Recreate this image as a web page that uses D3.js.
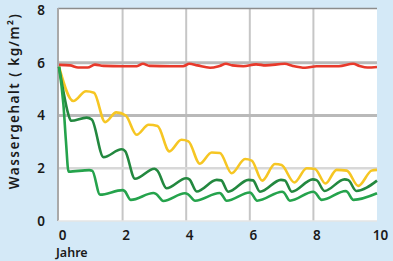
<!DOCTYPE html>
<html>
<head>
<meta charset="utf-8">
<script src="https://cdn.jsdelivr.net/npm/d3@7"></script>
<style>
  body { margin: 0; background: #d4e9f7; }
  svg { display: block; font-family: "Noto Sans", sans-serif; }
</style>
</head>
<body>
<div id="chart"></div>
<script>
// [Jahre, Wassergehalt kg/m²]
const red = [[0,5.92],[0.35,5.9],[0.6,5.82],[0.9,5.82],[1.13,5.93],[1.4,5.88],[2.0,5.87],[2.45,5.87],[2.64,5.96],[2.85,5.88],[3.5,5.87],[3.9,5.87],[4.1,5.96],[4.35,5.9],[4.75,5.81],[5.05,5.88],[5.25,5.96],[5.45,5.9],[5.8,5.87],[6.2,5.94],[6.5,5.9],[7.1,5.96],[7.35,5.88],[7.74,5.81],[8.1,5.87],[8.8,5.87],[9.25,5.96],[9.45,5.88],[9.7,5.82],[10,5.84]]
const yellow = [[0,5.85],[0.45,4.55],[0.85,4.92],[1.1,4.86],[1.45,3.75],[1.8,4.12],[2.1,4.0],[2.44,3.27],[2.82,3.65],[3.1,3.6],[3.47,2.64],[3.85,3.08],[4.07,3.02],[4.43,2.17],[4.8,2.6],[5.06,2.58],[5.43,1.81],[5.85,2.35],[6.06,2.29],[6.39,1.53],[6.79,2.16],[7.0,2.12],[7.4,1.46],[7.79,2.0],[8.05,1.97],[8.38,1.42],[8.73,1.94],[9.05,1.91],[9.41,1.33],[9.83,1.91],[10,1.94]]
const darkGreen = [[0,5.85],[0.14,4.9],[0.28,4.1],[0.38,3.8],[0.87,3.92],[1.03,3.85],[1.4,2.42],[1.97,2.72],[2.08,2.65],[2.39,1.6],[3.0,1.98],[3.1,1.9],[3.38,1.24],[4.0,1.62],[4.1,1.58],[4.33,1.12],[4.96,1.56],[5.1,1.54],[5.32,1.11],[5.96,1.56],[6.1,1.54],[6.32,1.11],[6.98,1.56],[7.1,1.54],[7.32,1.11],[7.98,1.58],[8.1,1.55],[8.35,1.14],[8.98,1.58],[9.1,1.55],[9.35,1.14],[10,1.53]]
const lightGreen = [[0,5.85],[0.14,4.4],[0.22,3.0],[0.3,1.87],[0.95,1.93],[1.05,1.9],[1.29,1.0],[2.0,1.17],[2.06,1.14],[2.26,0.8],[2.97,1.06],[3.05,1.03],[3.28,0.76],[3.96,1.05],[4.05,1.02],[4.28,0.77],[5.05,1.06],[5.1,1.03],[5.27,0.77],[6.0,1.08],[6.05,1.05],[6.23,0.77],[7.02,1.11],[7.07,1.08],[7.26,0.77],[8.0,1.11],[8.05,1.08],[8.26,0.8],[9.02,1.14],[9.07,1.1],[9.26,0.8],[10,1.05]]

const xTicks = [0, 2, 4, 6, 8, 10]
const yTicks = [0, 2, 4, 6, 8]
const yLabel = 'Wassergehalt ( kg/m²)'
const xLabel = 'Jahre'

let width = 393
let height = 261

let xScale = d3.scaleLinear([0, 10], [59, 377])
let yScale = d3.scaleLinear([0, 8], [221, 10])

let svg = d3.select('#chart')
  .append('svg')
  .attr('width', width)
  .attr('height', height)

// Plotfläche
svg.append('rect')
  .attr('x', 58).attr('y', 8)
  .attr('width', 377 - 58).attr('height', 221 - 8)
  .attr('fill', '#fff')

// Gitter
let gx = svg.append('g')
gx.selectAll('line').data(xTicks.filter(d => d > 0 && d < 10)).enter().append('line')
  .attr('x1', d => xScale(d)).attr('x2', d => xScale(d))
  .attr('y1', 8).attr('y2', 221)
  .attr('stroke', '#c6c6c6').attr('stroke-width', 2)

let gy = svg.append('g')
gy.selectAll('line').data([2, 4, 6]).enter().append('line')
  .attr('x1', 58).attr('x2', 377)
  .attr('y1', d => yScale(d)).attr('y2', d => yScale(d))
  .attr('stroke', d => d === 2 ? '#d8d8d8' : '#b9b9b9')
  .attr('stroke-width', d => d === 2 ? 2.5 : 3)

// Rahmen
svg.append('line').attr('x1', 58).attr('x2', 377).attr('y1', 8.5).attr('y2', 8.5)
  .attr('stroke', '#8c8c8c').attr('stroke-width', 1.5)
svg.append('line').attr('x1', 58).attr('x2', 58).attr('y1', 8).attr('y2', 221)
  .attr('stroke', '#a9a9a9').attr('stroke-width', 2)
svg.append('line').attr('x1', 58).attr('x2', 377).attr('y1', 221).attr('y2', 221)
  .attr('stroke', '#e4e4e4').attr('stroke-width', 1.5)

// Achsen
let xAxis = svg.append('g')
  .attr('transform', `translate(0,${221})`)
  .call(d3.axisBottom(xScale).tickValues(xTicks).tickSize(0).tickPadding(9))
let yAxis = svg.append('g')
  .attr('transform', `translate(${58},0)`)
  .call(d3.axisLeft(yScale).tickValues(yTicks).tickSize(0).tickPadding(13))
svg.selectAll('.domain').remove()
svg.selectAll('.tick text')
  .attr('font-family', '"Noto Sans", sans-serif')
  .attr('font-size', 13.5)
  .attr('font-weight', 600)
  .attr('fill', '#1a1a1a')
xAxis.selectAll('.tick text').attr('dx', 3)

// Kurven
let line = d3.line().x(d => xScale(d[0])).y(d => yScale(d[1])).curve(d3.curveMonotoneX)
let series = [
  { data: red, color: '#e8392b' },
  { data: yellow, color: '#f6c623' },
  { data: darkGreen, color: '#23883f' },
  { data: lightGreen, color: '#25a34c' }
]
series.forEach(s => {
  svg.append('path')
    .attr('d', line(s.data))
    .attr('fill', 'none')
    .attr('stroke', s.color)
    .attr('stroke-width', 2.6)
    .attr('stroke-linejoin', 'round')
})

// Beschriftung
svg.append('text')
  .attr('transform', `translate(19,101) rotate(-90)`)
  .attr('text-anchor', 'middle')
  .attr('font-size', 13.5)
  .attr('font-weight', 600)
  .attr('letter-spacing', 1.5)
  .attr('fill', '#1a1a1a')
  .text(yLabel)

svg.append('text')
  .attr('x', 56).attr('y', 257)
  .attr('font-size', 12.5)
  .attr('font-weight', 600)
  .attr('fill', '#1a1a1a')
  .text(xLabel)
</script>
</body>
</html>
